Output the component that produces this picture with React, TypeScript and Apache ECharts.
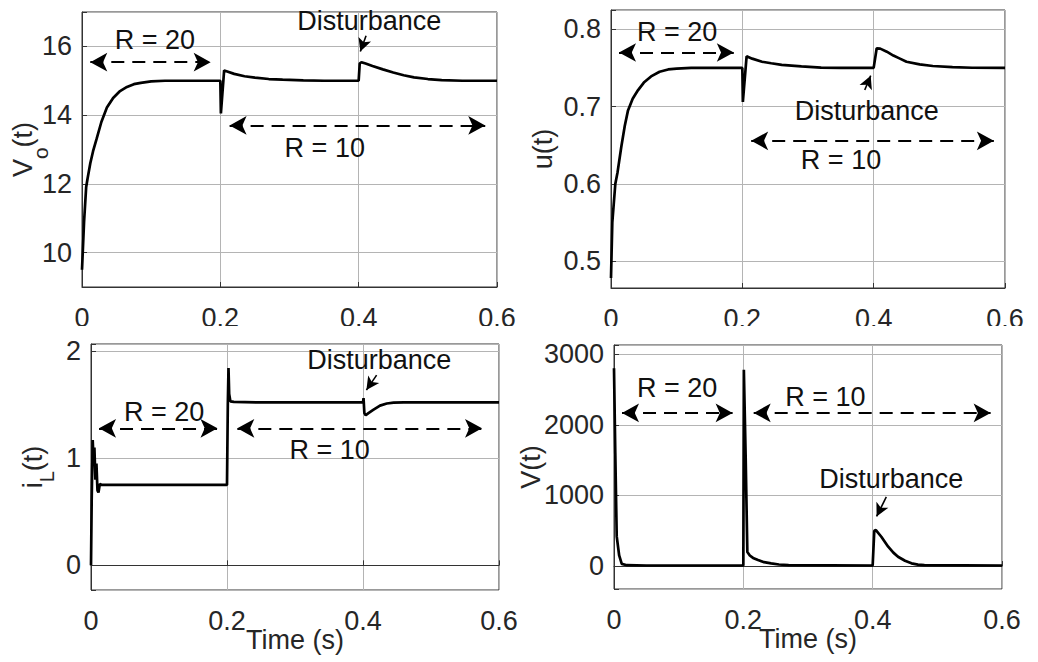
import React, { useEffect, useRef } from 'react';
import * as echarts from 'echarts';

// ---------- data ----------
const voT = [0, 0.003, 0.006, 0.008, 0.012, 0.016, 0.021, 0.028, 0.036, 0.045, 0.055, 0.065, 0.075, 0.085, 0.1, 0.12, 0.15, 0.2, 0.2008, 0.2055, 0.21, 0.22, 0.235, 0.25, 0.27, 0.29, 0.32, 0.35, 0.4, 0.4015, 0.404, 0.41, 0.42, 0.435, 0.45, 0.465, 0.48, 0.5, 0.52, 0.55, 0.6];
const voV = [9.5, 10.9, 11.9, 12.15, 12.6, 12.95, 13.3, 13.8, 14.22, 14.5, 14.7, 14.82, 14.9, 14.94, 14.98, 15.0, 15.0, 15.0, 14.05, 15.3, 15.27, 15.2, 15.13, 15.09, 15.05, 15.03, 15.01, 15.0, 15.0, 15.5, 15.54, 15.5, 15.43, 15.33, 15.24, 15.16, 15.1, 15.05, 15.02, 15.0, 15.0];

const uT = [0, 0.002, 0.0066, 0.01, 0.0157, 0.021, 0.0259, 0.033, 0.041, 0.05, 0.061, 0.074, 0.087, 0.1, 0.122, 0.15, 0.2, 0.2008, 0.2065, 0.215, 0.23, 0.244, 0.26, 0.29, 0.32, 0.35, 0.4, 0.4046, 0.41, 0.42, 0.43, 0.44, 0.45, 0.47, 0.49, 0.52, 0.55, 0.6];
const uV = [0.478, 0.55, 0.6, 0.615, 0.648, 0.675, 0.695, 0.71, 0.721, 0.731, 0.739, 0.745, 0.748, 0.749, 0.75, 0.75, 0.75, 0.706, 0.765, 0.762, 0.758, 0.756, 0.754, 0.752, 0.7505, 0.75, 0.75, 0.7754, 0.775, 0.771, 0.766, 0.762, 0.758, 0.7545, 0.7525, 0.751, 0.7502, 0.75];

const iT = [0, 0.001, 0.0025, 0.004, 0.005, 0.0065, 0.008, 0.0095, 0.011, 0.013, 0.016, 0.2, 0.2012, 0.2022, 0.2032, 0.205, 0.21, 0.25, 0.4, 0.4008, 0.402, 0.404, 0.408, 0.415, 0.425, 0.435, 0.445, 0.46, 0.6];
const iV = [0, 0.6, 1.17, 0.95, 1.1, 0.8, 0.95, 0.7, 0.68, 0.76, 0.75, 0.75, 1.5, 1.84, 1.6, 1.53, 1.525, 1.52, 1.52, 1.56, 1.42, 1.4, 1.42, 1.45, 1.49, 1.51, 1.518, 1.52, 1.52];

const vT = [0, 0.002, 0.0042, 0.008, 0.012, 0.02, 0.05, 0.2, 0.2008, 0.2036, 0.2062, 0.21, 0.215, 0.2227, 0.232, 0.243, 0.255, 0.27, 0.4, 0.4025, 0.405, 0.4134, 0.424, 0.432, 0.4392, 0.45, 0.46, 0.47, 0.48, 0.6];
const vV = [2800, 1600, 420, 150, 30, 12, 8, 8, 2780, 1550, 200, 150, 115, 85, 55, 38, 22, 12, 8, 500, 510, 415, 274, 190, 132, 75, 38, 20, 12, 8];

const xTicks = [0, 0.2, 0.4, 0.6];

// annotations (data coordinates)
const voTexts = [
  { text: 'R = 20', at: [0.1055, 16.2] },
  { text: 'R = 10', at: [0.351, 13.05] },
  { text: 'Disturbance', at: [0.4154, 16.73] },
];
const voSpans = [
  [[0.012, 15.54], [0.186, 15.54]],
  [[0.2134, 13.7], [0.583, 13.7]],
];
const voPointer = [[0.4107, 16.31], [0.4024, 15.85]];

const uTexts = [
  { text: 'R = 20', at: [0.1008, 0.797] },
  { text: 'Disturbance', at: [0.3896, 0.6948] },
  { text: 'R = 10', at: [0.3503, 0.6307] },
];
const uSpans = [
  [[0.0122, 0.77], [0.187, 0.77]],
  [[0.2135, 0.6556], [0.583, 0.6556]],
];
const uPointer = [[0.3864, 0.7214], [0.3955, 0.74]];

const iTexts = [
  { text: 'R = 20', at: [0.1076, 1.43] },
  { text: 'R = 10', at: [0.3509, 1.075] },
  { text: 'Disturbance', at: [0.4238, 1.915] },
];
const iSpans = [
  [[0.0118, 1.278], [0.186, 1.278]],
  [[0.2152, 1.278], [0.575, 1.278]],
];
const iPointer = [[0.42, 1.775], [0.405, 1.635]];

const vTexts = [
  { text: 'R = 20', at: [0.0977, 2524] },
  { text: 'R = 10', at: [0.327, 2400] },
  { text: 'Disturbance', at: [0.4288, 1228] },
];
const vSpans = [
  [[0.0124, 2168], [0.1834, 2168]],
  [[0.216, 2168], [0.5824, 2168]],
];
const vPointer = [[0.4211, 980], [0.4061, 703]];

// ---------- styling ----------
const FONT = '"Liberation Sans", Arial, Helvetica, sans-serif';
const TXT = '#262626';
const TICK_FS = 27;
const ANN_FS = 27;

const panels = [
  {
    grid: { left: 82, top: 12, width: 415, height: 275 },
    t: voT, v: voV, min: 9, max: 17, step: 2,
    name: '{n|V}{s|o}{n|(t)}', nameGap: 31,
    texts: voTexts, spans: voSpans, pointer: voPointer, xName: '',
  },
  {
    grid: { left: 611, top: 10, width: 394, height: 278 },
    t: uT, v: uV, min: 0.465, max: 0.825, step: 0.1,
    name: 'u(t)', nameGap: 55,
    texts: uTexts, spans: uSpans, pointer: uPointer, xName: '',
  },
  {
    grid: { left: 91, top: 344, width: 408, height: 246 },
    t: iT, v: iV, min: -0.23, max: 2.065, step: 1,
    name: '{n|i}{l|L}{n|(t)}', nameGap: 34,
    texts: iTexts, spans: iSpans, pointer: iPointer, xName: 'Time (s)',
  },
  {
    grid: { left: 614, top: 345, width: 388, height: 244 },
    t: vT, v: vV, min: -325, max: 3130, step: 1000,
    name: 'V(t)', nameGap: 70,
    texts: vTexts, spans: vSpans, pointer: vPointer, xName: 'Time (s)',
  },
];

const onStep = (step: number) => (val: number) => {
  const k = val / step;
  if (Math.abs(k - Math.round(k)) > 1e-6) return '';
  return String(parseFloat(val.toFixed(4)));
};

function buildOption() {
  const grid = panels.map((p) => ({
    ...p.grid,
    show: true,
    borderColor: '#333',
    borderWidth: 1,
    backgroundColor: '#fff',
    containLabel: false,
    outerBoundsMode: 'none',
  }));

  const xAxis = panels.map((p, i) => ({
    type: 'value',
    gridIndex: i,
    min: xTicks[0],
    max: xTicks[xTicks.length - 1],
    interval: 0.2,
    name: p.xName,
    nameLocation: 'middle',
    nameGap: 36,
    nameMoveOverlap: false,
    nameTextStyle: { fontSize: 27, color: TXT, fontFamily: FONT },
    axisLine: { show: true, lineStyle: { color: '#333', width: 1 } },
    axisTick: { show: true, inside: true, length: 5, lineStyle: { color: '#333' } },
    axisLabel: {
      fontSize: TICK_FS,
      color: TXT,
      fontFamily: FONT,
      margin: 17,
      formatter: onStep(0.2),
    },
    splitLine: { show: true, lineStyle: { color: '#b4b4b4', width: 1 } },
  }));

  const richName = {
    n: { fontSize: 27, lineHeight: 27, color: TXT, fontFamily: FONT, verticalAlign: 'top' },
    s: { fontSize: 21, lineHeight: 42, color: TXT, fontFamily: FONT, verticalAlign: 'bottom' },
    l: { fontSize: 20, lineHeight: 38, color: TXT, fontFamily: FONT, verticalAlign: 'bottom' },
  };

  const yAxis = panels.map((p, i) => ({
    type: 'value',
    gridIndex: i,
    min: p.min,
    max: p.max,
    minInterval: p.step,
    maxInterval: p.step,
    splitNumber: 4,
    name: p.name,
    nameLocation: 'middle',
    nameGap: p.nameGap,
    nameMoveOverlap: false,
    nameTextStyle: { fontSize: 27, color: TXT, fontFamily: FONT, rich: richName },
    axisLine: { show: true, lineStyle: { color: '#333', width: 1 } },
    axisTick: { show: true, inside: true, length: 5, lineStyle: { color: '#333' } },
    axisLabel: {
      fontSize: TICK_FS,
      color: TXT,
      fontFamily: FONT,
      margin: 10,
      formatter: onStep(p.step),
    },
    splitLine: { show: true, lineStyle: { color: '#b4b4b4', width: 1 } },
  }));

  const series = panels.map((p, i) => {
    const spanLines = p.spans.map((s) => [
      {
        coord: s[0],
        symbol: 'arrow',
        symbolSize: [14, 17],
        lineStyle: { type: [13, 8], width: 1.8, color: '#000' },
      },
      { coord: s[1], symbol: 'arrow', symbolSize: [14, 17] },
    ]);
    const pointerLine = [
      {
        coord: p.pointer[0],
        symbol: 'none',
        lineStyle: { type: 'solid', width: 1.6, color: '#000' },
      },
      { coord: p.pointer[1], symbol: 'arrow', symbolSize: [10, 13] },
    ];
    return {
      type: 'line',
      xAxisIndex: i,
      yAxisIndex: i,
      data: p.t.map((t, k) => [t, p.v[k]]),
      showSymbol: false,
      symbol: 'none',
      lineStyle: { color: '#000', width: 2.7 },
      itemStyle: { color: '#000' },
      silent: true,
      z: 3,
      markLine: {
        silent: true,
        animation: false,
        label: { show: false },
        emphasis: { disabled: true },
        itemStyle: { color: '#000' },
        lineStyle: { color: '#000' },
        data: [...spanLines, pointerLine],
      },
      markPoint: {
        silent: true,
        animation: false,
        symbol: 'circle',
        symbolSize: 0,
        itemStyle: { color: 'rgba(0,0,0,0)' },
        data: p.texts.map((tx) => ({
          name: tx.text,
          coord: tx.at,
          label: {
            show: true,
            position: 'inside',
            formatter: tx.text,
            fontSize: ANN_FS,
            color: '#111',
            fontFamily: FONT,
          },
        })),
      },
    };
  });

  return {
    animation: false,
    backgroundColor: '#fff',
    grid,
    xAxis,
    yAxis,
    series,
    graphic: [
      {
        type: 'rect',
        z: 100,
        silent: true,
        shape: { x: 0, y: 326, width: 1038, height: 12 },
        style: { fill: '#fff' },
      },
    ],
  };
}

export default function App() {
  const ref = useRef<HTMLDivElement>(null);
  useEffect(() => {
    if (!ref.current) return;
    const chart = echarts.init(ref.current, undefined, { renderer: 'svg' });
    chart.setOption(buildOption() as any);
    return () => chart.dispose();
  }, []);
  return (
    <div
      ref={ref}
      style={{ position: 'fixed', left: 0, top: 0, width: 1038, height: 662, background: '#fff' }}
    />
  );
}
